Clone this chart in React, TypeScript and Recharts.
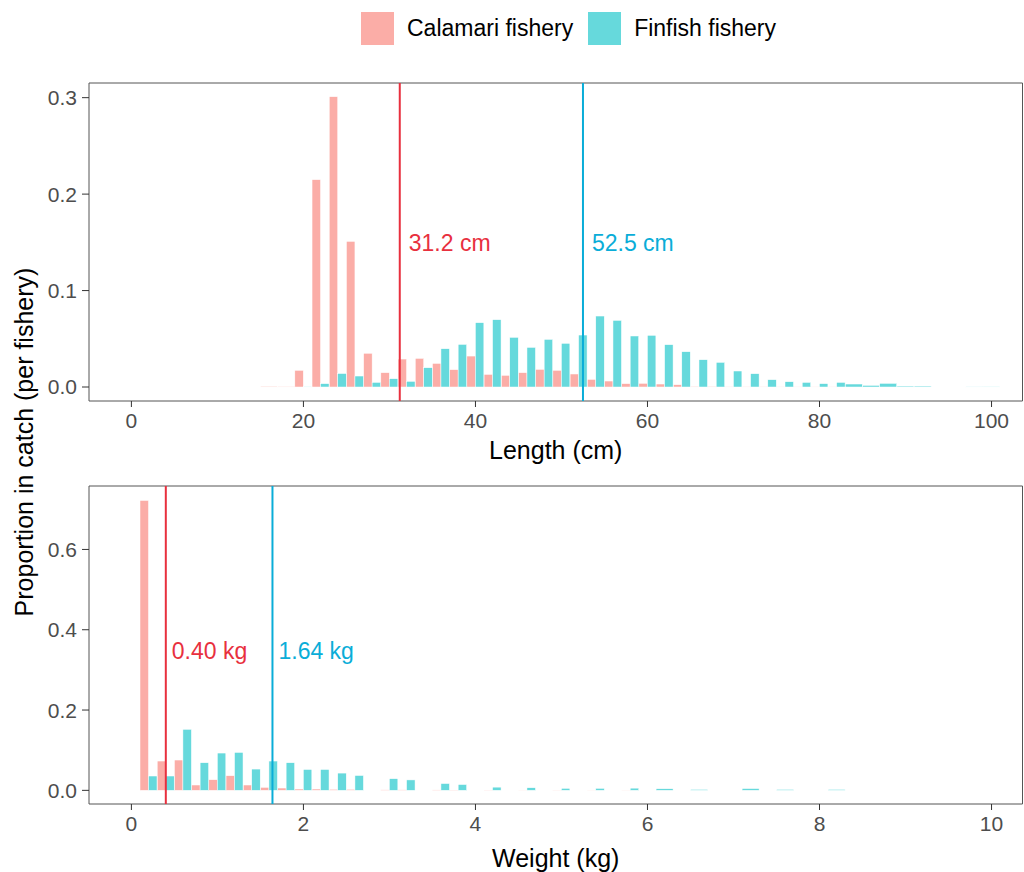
import React from 'react'
import { BarChart, Bar, XAxis, YAxis, ReferenceLine, ReferenceArea } from 'recharts'

// length histogram (2 cm bins, bin centres)
const lengthBins = [16, 18, 20, 22, 24, 26, 28, 30, 32, 34, 36, 38, 40, 42, 44, 46, 48, 50, 52, 54, 56, 58, 60, 62, 64, 66, 68, 70, 72, 74, 76, 78, 80, 82, 84, 86, 88, 90, 92, 98, 100]
const calamariLength = [0.0008, 0.0005, 0.0173, 0.215, 0.301, 0.151, 0.035, 0.0149, 0.029, 0.0297, 0.0245, 0.018, 0.0321, 0.0131, 0.0121, 0.0149, 0.0183, 0.0173, 0.0135, 0.0079, 0.0062, 0.0035, 0.0038, 0.0031, 0.0024, 0.0007, 0.0007, 0.0004, 0.0004, 0.0004, 0.0003, 0.0003, 0.0003, 0.0003, null, null, null, null, null, null, null]
const finfishLength = [null, null, 0.0004, 0.0035, 0.014, 0.0114, 0.0048, 0.0086, 0.0059, 0.02, 0.0397, 0.0442, 0.0667, 0.0698, 0.0515, 0.0411, 0.0494, 0.0453, 0.0539, 0.0736, 0.0691, 0.0529, 0.0536, 0.0439, 0.0366, 0.0283, 0.0256, 0.0166, 0.0138, 0.0076, 0.0055, 0.0048, 0.0035, 0.0048, 0.0031, 0.0017, 0.0038, 0.001, 0.001, 0.0003, 0.0004]
const lengthTicks = [0, 20, 40, 60, 80, 100]
const lengthPropTicks = [0, 0.1, 0.2, 0.3]
const meanLengthCalamari = 31.2
const meanLengthFinfish = 52.5

// weight histogram (0.2 kg bins)
const weightBins = [0.2, 0.4, 0.6, 0.8, 1.0, 1.2, 1.4, 1.6, 1.8, 2.0, 2.2, 2.4, 2.6, 3.0, 3.2, 3.6, 3.8, 4.2, 4.6, 5.0, 5.4, 5.8, 6.2, 6.6, 7.2, 7.6, 8.2]
const calamariWeight = [0.722, 0.073, 0.0755, 0.0133, 0.0265, 0.0365, 0.0133, 0.0075, 0.0058, 0.0033, 0.0033, 0.0025, 0.0025, 0.0012, 0.0012, 0.001, 0.0008, 0.0006, 0.0004, 0.0005, 0.0004, 0.0004, null, null, null, null, null]
const finfishWeight = [0.0357, 0.0357, 0.152, 0.0688, 0.0929, 0.0945, 0.053, 0.073, 0.0688, 0.052, 0.052, 0.043, 0.037, 0.029, 0.026, 0.017, 0.0145, 0.008, 0.0065, 0.005, 0.005, 0.0055, 0.004, 0.0022, 0.0045, 0.0022, 0.0022]
const weightTicks = [0, 2, 4, 6, 8, 10]
const weightPropTicks = [0, 0.2, 0.4, 0.6]
const meanWeightCalamari = 0.4
const meanWeightFinfish = 1.64

const CAL = '#F8766D'
const FIN = '#00BFC4'
const CAL_LINE = '#E8303E'
const FIN_LINE = '#0AADD8'
const FONT = '"Liberation Sans", Arial, sans-serif'

const lengthData = lengthBins.map((bin, i) => ({ bin, calamari: calamariLength[i], finfish: finfishLength[i] }))
const weightData = weightBins.map((bin, i) => ({ bin, calamari: calamariWeight[i], finfish: finfishWeight[i] }))

// dodged bar; takes the full bin when the other fishery has no value there
function histBar(other: 'calamari' | 'finfish', side: 'left' | 'right', color: string) {
  return (props: any) => {
    const { x, y, width, height, payload } = props
    if (!(height > 0)) return <g />
    const solo = payload[other] == null
    const w = solo ? width * 2 : width
    const x0 = solo && side === 'right' ? x - width : x
    return <rect x={x0} y={y} width={w} height={height} fill={color} fillOpacity={0.6} stroke="#fff" strokeWidth={0.5} />
  }
}

const tickStyle = { fontSize: 21, fill: '#4D4D4D' }

function Panel(props: {
  data: any[]; top: number; height: number; marginTop: number; xDomain: number[]; yDomain: number[]
  xTicks: number[]; yTicks: number[]; xTitle: string; xAxisHeight: number; titleOffset: number
  calMean: number; finMean: number; calLabel: string; finLabel: string; labelDy: number; labelOffset: number
}) {
  const p = props
  return (
    <div style={{ position: 'absolute', left: 0, top: p.top }}>
      <BarChart width={1024} height={p.height} data={p.data} margin={{ top: p.marginTop, right: 1.5, bottom: 0, left: 0 }} barGap={0} barCategoryGap={0}>
        <XAxis
          type="number" dataKey="bin" domain={p.xDomain} allowDataOverflow ticks={p.xTicks} interval={0}
          axisLine={false} tickLine={{ stroke: '#333' }} tickSize={6} tickMargin={6} tick={tickStyle}
          height={p.xAxisHeight}
          label={{ value: p.xTitle, position: 'insideBottom', offset: p.titleOffset, fill: '#000', fontSize: 25 }}
        />
        <YAxis
          type="number" domain={p.yDomain} allowDataOverflow ticks={p.yTicks} interval={0}
          axisLine={false} tickLine={{ stroke: '#333' }} tickSize={7} tickMargin={5} tick={tickStyle}
          tickFormatter={(v: number) => v.toFixed(1)} width={89}
        />
        <ReferenceArea x1={p.xDomain[0]} x2={p.xDomain[1]} y1={p.yDomain[0]} y2={p.yDomain[1]} fill="none" stroke="#555" strokeWidth={1} />
        <Bar dataKey="calamari" barSize={8.5} isAnimationActive={false} shape={histBar('finfish', 'left', CAL)} />
        <Bar dataKey="finfish" barSize={8.5} isAnimationActive={false} shape={histBar('calamari', 'right', FIN)} />
        <ReferenceLine x={p.calMean} stroke={CAL_LINE} strokeWidth={2}
          label={{ value: p.calLabel, position: 'right', offset: p.labelOffset, fill: CAL_LINE, fontSize: 23, dy: p.labelDy }} />
        <ReferenceLine x={p.finMean} stroke={FIN_LINE} strokeWidth={2}
          label={{ value: p.finLabel, position: 'right', offset: p.labelOffset, fill: FIN_LINE, fontSize: 23, dy: p.labelDy }} />
      </BarChart>
    </div>
  )
}

export default function App() {
  return (
    <div style={{ position: 'absolute', left: 0, top: 0, width: 1024, height: 872, background: '#fff', fontFamily: FONT, overflow: 'hidden' }}>
      <div style={{ position: 'absolute', left: 361, top: 12, display: 'flex', alignItems: 'center', fontSize: 23, color: '#000' }}>
        <span style={{ width: 33, height: 33, background: CAL, opacity: 0.6, display: 'inline-block' }} />
        <span style={{ marginLeft: 13, marginRight: 15 }}>Calamari fishery</span>
        <span style={{ width: 33, height: 33, background: FIN, opacity: 0.6, display: 'inline-block' }} />
        <span style={{ marginLeft: 13 }}>Finfish fishery</span>
      </div>

      <Panel
        data={lengthData} top={0} height={470} marginTop={83}
        xDomain={[-4.93, 103.6]} yDomain={[-0.0145, 0.3152]}
        xTicks={lengthTicks} yTicks={lengthPropTicks} xTitle="Length (cm)" xAxisHeight={69} titleOffset={11}
        calMean={meanLengthCalamari} finMean={meanLengthFinfish}
        calLabel={`${meanLengthCalamari.toFixed(1)} cm`} finLabel={`${meanLengthFinfish.toFixed(1)} cm`}
        labelDy={1} labelOffset={9}
      />
      <Panel
        data={weightData} top={440} height={432} marginTop={46}
        xDomain={[-0.493, 10.36]} yDomain={[-0.034, 0.758]}
        xTicks={weightTicks} yTicks={weightPropTicks} xTitle="Weight (kg)" xAxisHeight={68} titleOffset={5}
        calMean={meanWeightCalamari} finMean={meanWeightFinfish}
        calLabel={`${meanWeightCalamari.toFixed(2)} kg`} finLabel={`${meanWeightFinfish.toFixed(2)} kg`}
        labelDy={6} labelOffset={6}
      />

      <div style={{ position: 'absolute', left: 24, top: 442, transform: 'translate(-50%, -50%) rotate(-90deg)', whiteSpace: 'nowrap', fontSize: 25, color: '#000' }}>
        Proportion in catch (per fishery)
      </div>
    </div>
  )
}
